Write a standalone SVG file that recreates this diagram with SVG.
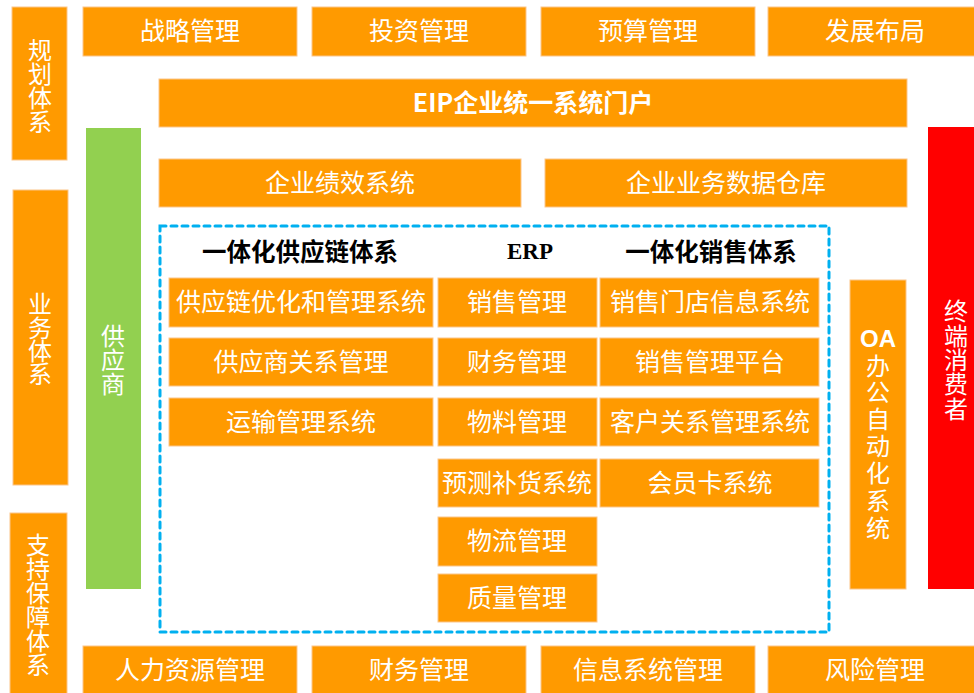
<svg xmlns="http://www.w3.org/2000/svg" width="974" height="693" viewBox="0 0 974 693">
<style>
.o{fill:#FF9A00;stroke:#FBC58A;stroke-width:1}
.g{fill:#92D050}
.r{fill:#FF0000}
.t{fill:#FFFFFF;font-family:"Noto Sans CJK SC","Liberation Sans",sans-serif;font-size:25px;text-anchor:middle;dominant-baseline:central}
.v{fill:#FFFFFF;font-family:"Noto Sans CJK SC","Liberation Sans",sans-serif;font-size:24px;text-anchor:middle;dominant-baseline:central}
.h{fill:#000000;font-family:"Noto Sans CJK SC","Liberation Sans",sans-serif;font-size:24.5px;font-weight:bold;text-anchor:middle;dominant-baseline:central}
.e{fill:#000000;font-family:"Liberation Serif",serif;font-size:23px;font-weight:bold;text-anchor:middle;dominant-baseline:central}
.b{fill:#FFFFFF;font-family:"Liberation Sans",sans-serif;font-size:24px;font-weight:bold;text-anchor:middle;dominant-baseline:central}
</style>
<rect width="974" height="693" fill="#FFFFFF"/>
<g id="connectors"></g>

<g id="guihua"><rect class="o" x="12" y="7" width="55" height="153"/>
<text class="v"><tspan x="40" y="48">规</tspan><tspan x="40" y="72">划</tspan><tspan x="40" y="96">体</tspan><tspan x="40" y="120">系</tspan></text></g>
<g id="yewu"><rect class="o" x="13" y="190" width="55" height="295"/>
<text class="v"><tspan x="40" y="302">业</tspan><tspan x="40" y="326">务</tspan><tspan x="40" y="349">体</tspan><tspan x="40" y="372">系</tspan></text></g>
<g id="zhichi"><rect class="o" x="10" y="513" width="57" height="182"/>
<text class="v"><tspan x="38" y="543">支</tspan><tspan x="38" y="567">持</tspan><tspan x="38" y="591">保</tspan><tspan x="38" y="615">障</tspan><tspan x="38" y="639">体</tspan><tspan x="38" y="663">系</tspan></text></g>

<g id="zhanlue"><rect class="o" x="83" y="7" width="214" height="49"/><text class="t" x="190" y="29">战略管理</text></g>
<g id="touzi"><rect class="o" x="312" y="7" width="214" height="49"/><text class="t" x="419" y="29">投资管理</text></g>
<g id="yusuan"><rect class="o" x="541" y="7" width="214" height="49"/><text class="t" x="648" y="29">预算管理</text></g>
<g id="fazhan"><rect class="o" x="768" y="7" width="210" height="49"/><text class="t" x="875" y="29">发展布局</text></g>

<g id="eip"><rect class="o" x="159" y="79" width="748" height="48"/><text class="t" x="533" y="101" font-size="22" font-weight="bold">EIP企业统一系统门户</text></g>

<g id="gongyingshang"><rect class="g" x="86" y="128" width="55" height="461"/>
<text class="v"><tspan x="113" y="334">供</tspan><tspan x="113" y="358">应</tspan><tspan x="113" y="382">商</tspan></text></g>

<g id="jixiao"><rect class="o" x="159" y="159" width="362" height="48"/><text class="t" x="340" y="181">企业绩效系统</text></g>
<g id="cangku"><rect class="o" x="545" y="159" width="362" height="48"/><text class="t" x="726" y="181">企业业务数据仓库</text></g>

<g id="zhongduan"><rect class="r" x="928" y="127" width="48" height="462"/>
<text class="v"><tspan x="956" y="309">终</tspan><tspan x="956" y="334">端</tspan><tspan x="956" y="358">消</tspan><tspan x="956" y="382">费</tspan><tspan x="956" y="407">者</tspan></text></g>

<g id="oa"><rect class="o" x="850" y="280" width="56" height="309"/>
<text class="b" x="878" y="338">OA</text>
<text class="v"><tspan x="878" y="364">办</tspan><tspan x="878" y="390">公</tspan><tspan x="878" y="417">自</tspan><tspan x="878" y="444">动</tspan><tspan x="878" y="471">化</tspan><tspan x="878" y="499">系</tspan><tspan x="878" y="526">统</tspan></text></g>

<g id="dashed"><rect x="160" y="226" width="669" height="406" fill="none" stroke="#00B0F0" stroke-width="3" stroke-dasharray="6 5" stroke-linecap="round"/></g>

<g id="header1"><text class="h" x="300" y="250">一体化供应链体系</text></g>
<g id="header2"><text class="e" x="530" y="251">ERP</text></g>
<g id="header3"><text class="h" x="711" y="250">一体化销售体系</text></g>

<g id="c1r1"><rect class="o" x="169" y="278" width="264" height="49"/><text class="t" x="301" y="300">供应链优化和管理系统</text></g>
<g id="c1r2"><rect class="o" x="169" y="338" width="264" height="48"/><text class="t" x="301" y="360">供应商关系管理</text></g>
<g id="c1r3"><rect class="o" x="169" y="398" width="264" height="48"/><text class="t" x="301" y="420">运输管理系统</text></g>

<g id="c2r1"><rect class="o" x="438" y="278" width="159" height="49"/><text class="t" x="517" y="300">销售管理</text></g>
<g id="c2r2"><rect class="o" x="438" y="338" width="159" height="48"/><text class="t" x="517" y="360">财务管理</text></g>
<g id="c2r3"><rect class="o" x="438" y="398" width="159" height="48"/><text class="t" x="517" y="420">物料管理</text></g>
<g id="c2r4"><rect class="o" x="438" y="459" width="159" height="48"/><text class="t" x="517" y="481">预测补货系统</text></g>
<g id="c2r5"><rect class="o" x="438" y="517" width="159" height="49"/><text class="t" x="517" y="539">物流管理</text></g>
<g id="c2r6"><rect class="o" x="438" y="574" width="159" height="48"/><text class="t" x="517" y="596">质量管理</text></g>

<g id="c3r1"><rect class="o" x="600" y="278" width="219" height="49"/><text class="t" x="710" y="300">销售门店信息系统</text></g>
<g id="c3r2"><rect class="o" x="600" y="338" width="219" height="48"/><text class="t" x="710" y="360">销售管理平台</text></g>
<g id="c3r3"><rect class="o" x="600" y="398" width="219" height="48"/><text class="t" x="710" y="420">客户关系管理系统</text></g>
<g id="c3r4"><rect class="o" x="600" y="459" width="219" height="48"/><text class="t" x="710" y="481">会员卡系统</text></g>

<g id="renli"><rect class="o" x="83" y="646" width="214" height="50"/><text class="t" x="190" y="668">人力资源管理</text></g>
<g id="caiwu"><rect class="o" x="312" y="646" width="214" height="50"/><text class="t" x="419" y="668">财务管理</text></g>
<g id="xinxi"><rect class="o" x="541" y="646" width="214" height="50"/><text class="t" x="648" y="668">信息系统管理</text></g>
<g id="fengxian"><rect class="o" x="768" y="646" width="210" height="50"/><text class="t" x="875" y="668">风险管理</text></g>
</svg>
